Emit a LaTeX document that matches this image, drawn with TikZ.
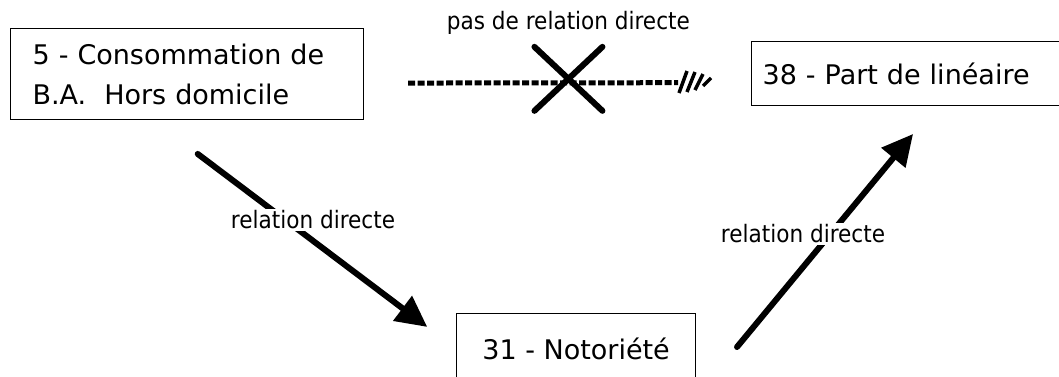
\documentclass[tikz,border=0pt]{standalone}
\usepackage{fontspec}
\setmainfont{DejaVu Sans}
\newfontfamily\condfont{DejaVu Sans Condensed}
\usetikzlibrary{arrows.meta, positioning, shapes.misc}
\tikzset{
	var/.style={rectangle, draw=black, line width=1.2pt, align=left, anchor=north west, font=\fontsize{27}{40}\selectfont},
	rel/.style={-{Triangle[length=31pt, width=30pt]}, line width=6pt, line cap=round},
	nolink/.style={line width=5pt, dash pattern=on 7pt off 2.5pt},
	hatch/.style={line width=3.5pt},
	lbl/.style={fill=white, inner sep=2pt, font=\condfont\fontsize{24}{28}\selectfont},
}

\begin{document}
\begin{tikzpicture}[x=1pt, y=-1pt]
		\useasboundingbox (0,0) rectangle (1059,376);
		\node[var, text width=309pt, inner xsep=22pt, minimum height=91pt] (conso) at (10,28) {5 - Consommation de\\B.A.\ \ Hors domicile};
		\node[var, text width=300pt, inner xsep=11pt, minimum height=64pt] (part) at (751,41) {38 - Part de linéaire};
		\node[var, minimum width=239pt, minimum height=70pt] (noto) at (456,313) {31 - Notoriété};
		\coordinate (fromnoto) at (737,347);
		\draw[rel, shorten <=56pt, shorten >=36pt] ([xshift=143pt]conso.south west) -- (noto.west);
		\draw[rel, shorten >=36pt] (fromnoto) -- ([xshift=185pt]part.south west);
		\draw[nolink, shorten <=44pt, shorten >=73pt] ([yshift=-9pt]conso.east) -- ([yshift=-9pt]part.west)
			node[pos=0.528, yshift=4pt, cross out, draw, solid, shorten <=0pt, shorten >=0pt, line width=6pt, line cap=round, minimum width=62pt, minimum height=58pt] (nolinkx) {};
		% hatched head
		\foreach \hx/\hh in {683/11, 691/10, 699/8, 707/4}
			\draw[hatch] (\hx-4,82+\hh) -- (\hx+4,82-\hh);
		\node[lbl, above=10pt of nolinkx] (nolinklbl) {pas de relation directe};
		\node[lbl] (rel1) at (313,220) {relation directe};
		\node[lbl] (rel2) at (803,234) {relation directe};
	\end{tikzpicture}
\end{document}
